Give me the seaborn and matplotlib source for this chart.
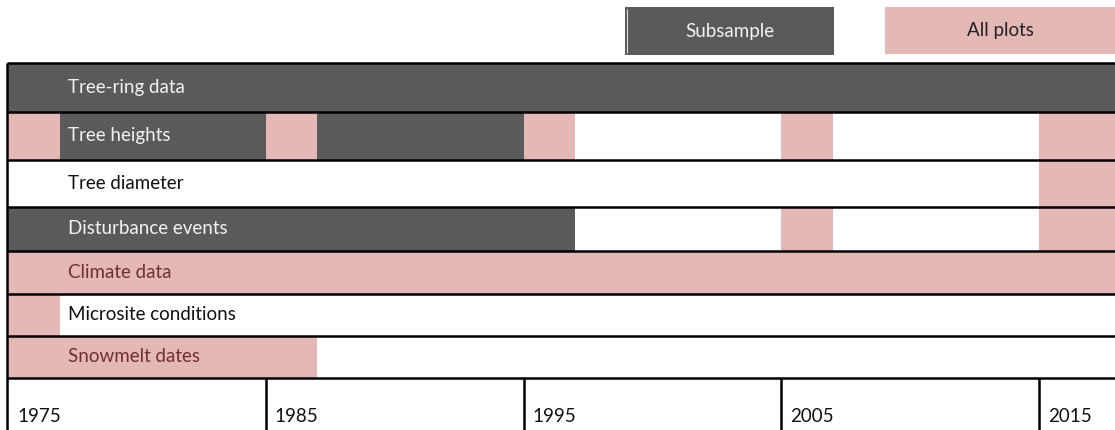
import matplotlib
matplotlib.use("Agg")
import matplotlib.pyplot as plt
import seaborn as sns
import pandas as pd
from matplotlib.patches import Rectangle

# ---------------- data ----------------
rows = ["Tree-ring data", "Tree heights", "Tree diameter", "Disturbance events",
        "Climate data", "Microsite conditions", "Snowmelt dates"]

seg_row = ["Tree-ring data",
           "Tree heights", "Tree heights", "Tree heights", "Tree heights",
           "Tree heights", "Tree heights", "Tree heights",
           "Tree diameter",
           "Disturbance events", "Disturbance events", "Disturbance events",
           "Climate data",
           "Microsite conditions",
           "Snowmelt dates"]
seg_start = [1975,
             1975, 1977, 1985, 1987, 1995, 2005, 2015,
             2015,
             1975, 2005, 2015,
             1975,
             1975,
             1975]
seg_end = [2018,
           1977, 1985, 1987, 1995, 1997, 2007, 2018,
           2018,
           1997, 2007, 2018,
           2018,
           1977,
           1987]
seg_group = ["Subsample",
             "All plots", "Subsample", "All plots", "Subsample", "All plots", "All plots", "All plots",
             "All plots",
             "Subsample", "All plots", "All plots",
             "All plots",
             "All plots",
             "All plots"]

tick_years = [1975, 1985, 1995, 2005, 2015]
legend_labels = ["Subsample", "All plots"]

# ---------------- style ----------------
sns.set_theme(style="white")
plt.rcParams['font.family'] = ['Lato', 'DejaVu Sans']

colors = {"Subsample": "#5a5a5a", "All plots": "#e5b8b8"}
text_colors = {"Subsample": "#f2f2f2", "All plots": "#6e2f35", None: "#111111"}

W, H = 1115, 430
px_per_year = 25.78
left_px = 8
row_edges = [63, 112, 160, 207, 251, 294, 336, 378]
FS = 13.5

def yr(px):
    return 1975 + (px - left_px) / px_per_year

df = pd.DataFrame({"row": seg_row, "start": seg_start, "end": seg_end, "group": seg_group})

fig = plt.figure(figsize=(W / 100, H / 100), dpi=100)
ax = fig.add_axes([0, 0, 1, 1])
ax.set_xlim(yr(0), yr(W))
ax.set_ylim(H, 0)
ax.set_axis_off()

row_idx = {r: i for i, r in enumerate(rows)}
for _, s in df.iterrows():
    i = row_idx[s["row"]]
    top, bot = row_edges[i], row_edges[i + 1]
    ax.barh(y=(top + bot) / 2, width=s["end"] - s["start"], left=s["start"],
            height=bot - top, color=colors[s["group"]], linewidth=0, align="center")

# row labels
label_x = yr(68)
for i, r in enumerate(rows):
    top, bot = row_edges[i], row_edges[i + 1]
    under = None
    sub = df[(df["row"] == r) & (df["start"] <= label_x) & (df["end"] > label_x)]
    if len(sub):
        under = sub.iloc[0]["group"]
    ax.text(label_x, (top + bot) / 2, r, ha="left", va="center",
            fontsize=FS, color=text_colors[under])

# grid lines
ax.hlines(row_edges, yr(7), yr(W), color="black", linewidth=1.8)
ax.vlines(yr(7), row_edges[0], H, color="black", linewidth=1.8)
for y in tick_years[1:]:
    ax.vlines(y, row_edges[-1], H, color="black", linewidth=1.8)
for y in tick_years:
    ax.text(y + 9 / px_per_year, 416, str(y), ha="left", va="center",
            fontsize=FS, color="#111111")

# legend (pixel coordinates overlay)
lax = fig.add_axes([0, 0, 1, 1])
lax.set_xlim(0, W)
lax.set_ylim(H, 0)
lax.set_axis_off()
lax.patch.set_alpha(0)
leg_boxes = [(625, 7, 209, 48), (885, 7, 230, 47)]
for lab, (x, y, w, h) in zip(legend_labels, leg_boxes):
    lax.add_patch(Rectangle((x, y), w, h, facecolor=colors[lab], edgecolor="none"))
    lax.text(x + w / 2, y + h / 2, lab, ha="center", va="center", fontsize=FS,
             color="#f2f2f2" if lab == "Subsample" else "#222222")
lax.vlines(627, 9, 53, color="#dddddd", linewidth=0.8)

fig.savefig("out.png", dpi=100)
